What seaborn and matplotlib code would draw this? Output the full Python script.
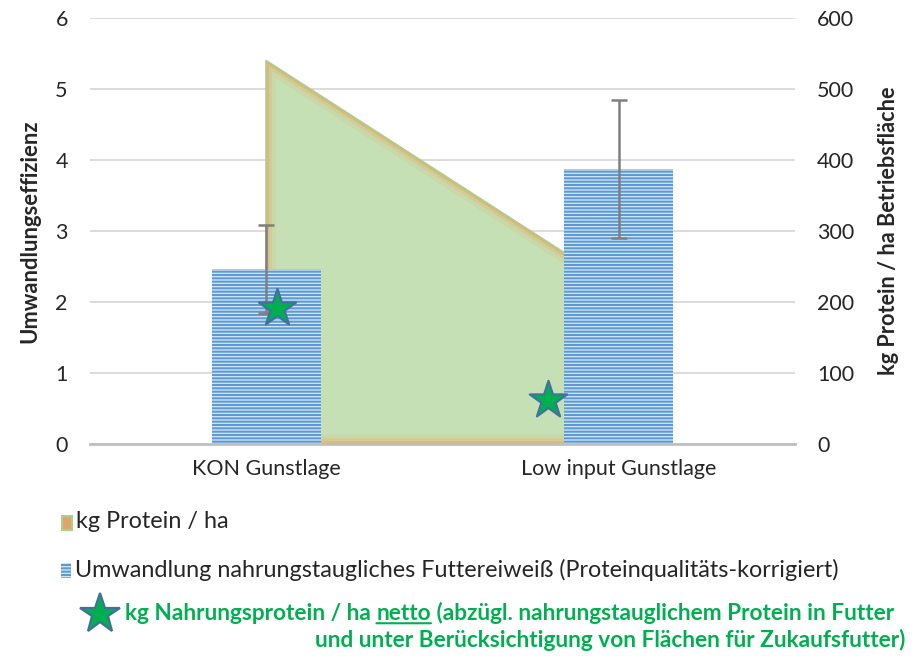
import numpy as np
import matplotlib
matplotlib.use('Agg')
import matplotlib.pyplot as plt
from matplotlib.patches import Rectangle, PathPatch
from matplotlib.lines import Line2D
import seaborn as sns

# --- Daten ---
kategorien = ['KON Gunstlage', 'Low input Gunstlage']
umwandlung = [2.46, 3.87]          # linke Achse
umwandlung_fehler = [0.62, 0.97]
protein_ha = [540, 220]            # rechte Achse (Flaeche)
netto_x = [0.03, 0.80]             # Lage der Sterne (Kategorie-Einheiten)
netto_protein = [192, 62]          # rechte Achse

GRUEN = '#00B050'
BLAU = '#5B9BD5'

sns.set_style('white')
plt.rcParams['font.family'] = ['Lato', 'DejaVu Sans']
plt.rcParams['hatch.linewidth'] = 1.5

W, H = 922, 656
fig = plt.figure(figsize=(W / 100, H / 100), dpi=100)
ax = fig.add_axes([90 / W, 1 - 444 / H, 705 / W, 426 / H])
ax_flaeche = ax.twinx()
ax_stern = ax.twinx()
ax_flaeche.set_zorder(0)
ax.set_zorder(1)
ax_stern.set_zorder(2)
ax.patch.set_visible(False)
ax_stern.patch.set_visible(False)

x = np.arange(len(kategorien))

# --- Flaeche kg Protein / ha ---
poly = ax_flaeche.fill_between(x, protein_ha, color='#C5E0B4', lw=0, zorder=2)
pfad = poly.get_paths()[0]
for lw, a in [(14, 0.10), (8, 0.18), (4, 0.35), (1.5, 0.5)]:
    glow = PathPatch(pfad, transform=ax_flaeche.transData, fc='none',
                     ec='#F0994A', lw=lw, alpha=a, zorder=3)
    ax_flaeche.add_patch(glow)
    glow.set_clip_path(pfad, ax_flaeche.transData)
sns.lineplot(x=x, y=protein_ha, ax=ax_flaeche, color='#A9D18E', lw=1.2, zorder=4)
ax_flaeche.plot([x[0], x[0]], [0, protein_ha[0]], color='#A9D18E', lw=1.2, zorder=4)
ax_flaeche.set_ylim(0, 600)
ax_flaeche.set_yticks(range(0, 601, 100))
ax_flaeche.grid(axis='y', color='#D9D9D9', lw=1.3)
ax_flaeche.set_axisbelow(True)
ax_flaeche.tick_params(axis='y', length=0, pad=16, labelsize=15.5)
ax_flaeche.set_ylabel('kg Protein / ha Betriebsfläche', fontsize=15.6, fontweight='bold')
ax_flaeche.yaxis.set_label_coords(1.118, 0.5)

# --- Balken Umwandlungseffizienz ---
sns.barplot(x=kategorien, y=umwandlung, ax=ax, color=BLAU, width=0.31,
            errorbar=None)
for p in ax.patches:
    p.set_facecolor('#D9E7F5')
    p.set_edgecolor(BLAU)
    p.set_hatch('-----')
    p.set_linewidth(0)
ax.errorbar(x, umwandlung, yerr=umwandlung_fehler, fmt='none',
            ecolor='#7F7F7F', elinewidth=1.8, capsize=6, capthick=1.8)
ax.set_ylim(0, 6)
ax.set_xlim(-0.5, 1.5)
ax.set_yticks(range(0, 7))
ax.tick_params(axis='y', length=0, pad=16, labelsize=15.5)
ax.tick_params(axis='x', length=0, pad=11, labelsize=15.5)
ax.set_ylabel('Umwandlungseffizienz', fontsize=15.8, fontweight='bold')
ax.yaxis.set_label_coords(-0.07, 0.5)

for a in (ax, ax_flaeche, ax_stern):
    for s in ('left', 'right', 'top', 'bottom'):
        a.spines[s].set_visible(False)
ax.spines['bottom'].set_visible(True)
ax.spines['bottom'].set_color('#BFBFBF')
ax.spines['bottom'].set_linewidth(2)

# --- Sterne netto ---
sns.scatterplot(x=netto_x, y=netto_protein, ax=ax_stern, marker='*', s=800,
                color=GRUEN, edgecolor='#41719C', linewidth=1.6, zorder=5)
ax_stern.set_ylim(0, 600)
ax_stern.set_xlim(-0.5, 1.5)
ax_stern.set_yticks([])

# --- Legende (manuell) ---
fig.patches.append(Rectangle((62 / W, 1 - 530 / H), 10 / W, 14 / H,
                             transform=fig.transFigure, fc='#E3A36B',
                             ec='#A9D18E', lw=1.5))
fig.text(76 / W, 1 - 522 / H, 'kg Protein / ha', fontsize=16.8, va='center')

fig.patches.append(Rectangle((61 / W, 1 - 578 / H), 10 / W, 15 / H,
                             transform=fig.transFigure, fc='#D9E7F5',
                             ec=BLAU, lw=0, hatch='-----'))
fig.text(75 / W, 1 - 570 / H,
         'Umwandlung nahrungstaugliches Futtereiweiß (Proteinqualitäts-korrigiert)',
         fontsize=16.8, va='center')

fig.add_artist(Line2D([100 / W], [1 - 614 / H], marker='*', markersize=30,
                      color=GRUEN, markeredgecolor='#41719C', mew=1.6,
                      transform=fig.transFigure))
gfs = 16.3
t1 = fig.text(125 / W, 1 - 614 / H, 'kg Nahrungsprotein / ha ', fontsize=gfs,
              fontweight='bold', color=GRUEN, va='center')
t2 = ax.annotate('netto', xy=(1, 0), xycoords=t1, ha='left', va='bottom',
                 fontsize=gfs, fontweight='bold', color=GRUEN,
                 annotation_clip=False)
ax.annotate('', xy=(0, 0.06), xycoords=t2, xytext=(1, 0.06), textcoords=t2,
            arrowprops=dict(arrowstyle='-', color=GRUEN, lw=1.5,
                            shrinkA=0, shrinkB=0), annotation_clip=False)
ax.annotate(' (abzügl. nahrungstauglichem Protein in Futter', xy=(1, 0),
            xycoords=t2, ha='left', va='bottom', fontsize=gfs,
            fontweight='bold', color=GRUEN, annotation_clip=False)
fig.text(905 / W, 1 - 640 / H,
         'und unter Berücksichtigung von Flächen für Zukaufsfutter)',
         fontsize=gfs, fontweight='bold', color=GRUEN, va='center', ha='right')

fig.savefig('out.png', dpi=100)
